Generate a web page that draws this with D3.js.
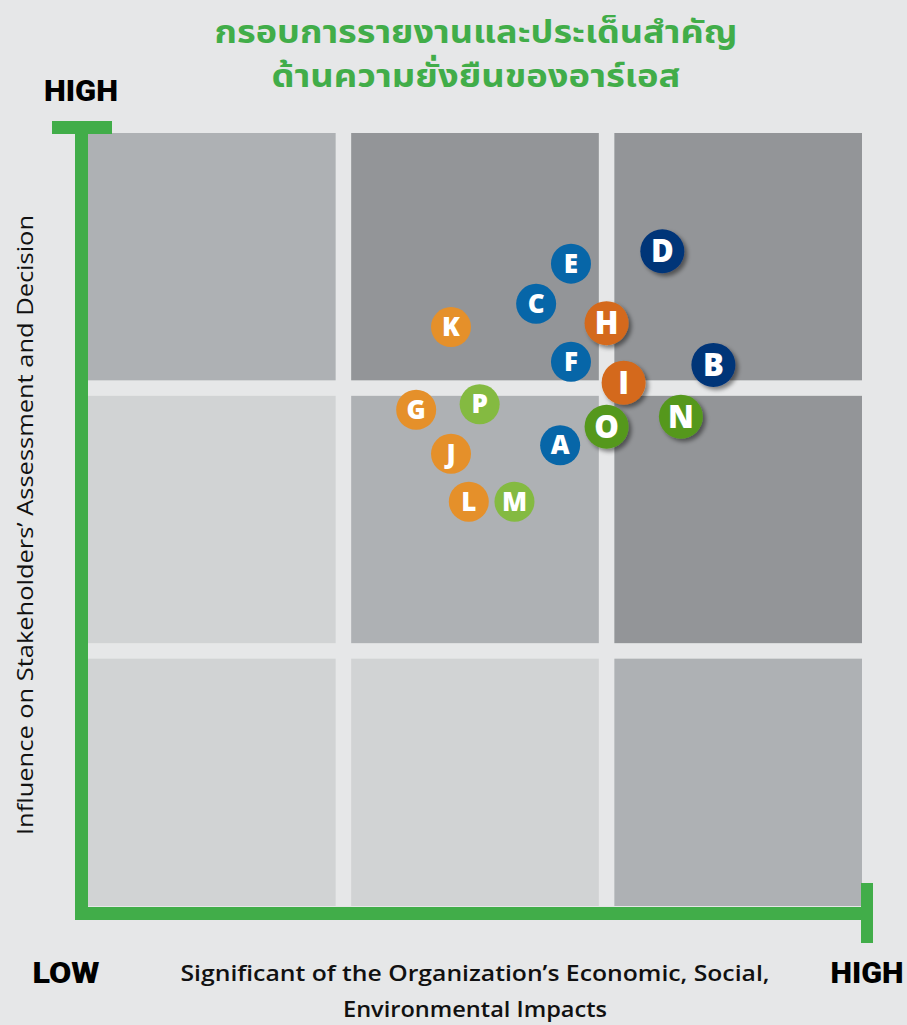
<!DOCTYPE html>
<html>
<head>
<meta charset="utf-8">
<script src="https://cdn.jsdelivr.net/npm/d3@7"></script>
<style>
  body { margin: 0; background: #e6e7e8; }
  svg { display: block; }
</style>
</head>
<body>
<svg id="chart" width="907" height="1025"></svg>
<script>
// issues plotted on the materiality matrix (0-100 on both axes)
const letters = ['A', 'B', 'C', 'D', 'E', 'F', 'G', 'H', 'I', 'J', 'K', 'L', 'M', 'N', 'O', 'P'];
const impactValues = [61.0, 80.8, 57.9, 74.2, 62.4, 62.4, 42.4, 67.0, 69.2, 46.9, 46.9, 49.2, 55.1, 76.6, 67.0, 50.6];
const influenceValues = [59.6, 70.0, 77.9, 84.7, 83.1, 70.4, 64.2, 75.4, 67.7, 58.5, 74.9, 52.3, 52.3, 63.3, 62.0, 64.9];
const groups = ['eco', 'eco1', 'eco', 'eco1', 'eco', 'eco', 'soc', 'soc1', 'soc1', 'soc', 'soc', 'soc', 'env', 'env1', 'env1', 'env'];

// 3x3 grid, rows from top (high influence) to bottom
const levels = ['Low', 'Medium', 'High'];
const cellShade = [
    [1, 2, 2],
    [0, 1, 2],
    [0, 0, 1]
];

const titleLines = ['กรอบการรายงานและประเด็นสำคัญ', 'ด้านความยั่งยืนของอาร์เอส'];
const xLabelLines = ['Significant of the Organization’s Economic, Social,', 'Environmental Impacts'];
const yLabel = 'Influence on Stakeholders’ Assessment and Decision';

const svg = d3.select('#chart');
const green = '#41ad49';

const shades = ['#d1d3d4', '#aeb1b4', '#939598'];
const colors = {
    eco: '#0766a8', eco1: '#003478',
    soc: '#e5902a', soc1: '#d4691a',
    env: '#84ba41', env1: '#55981f'
};

const plotLeft = 88, plotRight = 862, plotTop = 133, plotBottom = 906;

const x = d3.scaleLinear().domain([0, 100]).range([plotLeft, plotRight]);
const y = d3.scaleLinear().domain([0, 100]).range([plotBottom, plotTop]);
const colBand = d3.scaleBand().domain(levels).range([plotLeft, plotRight]).paddingInner(0.059);
const rowBand = d3.scaleBand().domain(levels.slice().reverse()).range([plotTop, plotBottom]).paddingInner(0.059);

const defs = svg.append('defs');
defs.append('filter').attr('id', 'shadow')
    .attr('x', '-30%').attr('y', '-30%').attr('width', '170%').attr('height', '170%')
    .append('feDropShadow')
    .attr('dx', 3).attr('dy', 3).attr('stdDeviation', 2.2)
    .attr('flood-color', '#000').attr('flood-opacity', 0.45);

// title
svg.append('g').selectAll('text')
    .data(titleLines)
    .enter().append('text')
    .attr('x', 476)
    .attr('y', (d, i) => 43 + i * 44)
    .attr('text-anchor', 'middle')
    .attr('textLength', (d, i) => i ? 409 : 523)
    .attr('lengthAdjust', 'spacingAndGlyphs')
    .attr('fill', green)
    .style('font-family', '"Noto Sans Thai", "Noto Sans", "DejaVu Sans", sans-serif')
    .style('font-size', '32px')
    .style('font-weight', 700)
    .text(d => d);

// grid cells
const cells = [];
cellShade.forEach((row, r) => row.forEach((s, c) => cells.push({row: levels[2 - r], col: levels[c], s: s})));
svg.append('g').selectAll('rect')
    .data(cells)
    .enter().append('rect')
    .attr('x', d => colBand(d.col))
    .attr('y', d => rowBand(d.row))
    .attr('width', colBand.bandwidth())
    .attr('height', rowBand.bandwidth())
    .attr('fill', d => shades[d.s]);

// green axes
const axes = svg.append('g').attr('fill', green);
axes.append('rect').attr('x', 75).attr('y', 121).attr('width', 13).attr('height', 799);
axes.append('rect').attr('x', 52).attr('y', 121).attr('width', 60).attr('height', 13);
axes.append('rect').attr('x', 75).attr('y', 907).attr('width', 798).attr('height', 13);
axes.append('rect').attr('x', 861).attr('y', 883).attr('width', 12).attr('height', 60);

// axis end labels
const endLabels = [
    {t: 'HIGH', x: 81, y: 101, w: 74},
    {t: 'LOW', x: 66, y: 983, w: 67},
    {t: 'HIGH', x: 867, y: 983, w: 73}
];
svg.append('g').selectAll('text')
    .data(endLabels)
    .enter().append('text')
    .attr('x', d => d.x)
    .attr('y', d => d.y)
    .attr('text-anchor', 'middle')
    .attr('textLength', d => d.w)
    .attr('lengthAdjust', 'spacingAndGlyphs')
    .style('font-family', 'Roboto, sans-serif')
    .style('font-size', '29px')
    .style('font-weight', 900)
    .attr('fill', '#000')
    .text(d => d.t);

// x axis title
svg.append('g').selectAll('text')
    .data(xLabelLines)
    .enter().append('text')
    .attr('x', 475)
    .attr('y', (d, i) => 981 + i * 36)
    .attr('text-anchor', 'middle')
    .attr('textLength', (d, i) => i ? 264 : 589)
    .attr('lengthAdjust', 'spacingAndGlyphs')
    .style('font-family', '"Open Sans", sans-serif')
    .style('font-size', '22px')
    .style('font-weight', 600)
    .attr('fill', '#111')
    .text(d => d);

// y axis title
svg.append('text')
    .attr('transform', 'translate(33,525) rotate(-90)')
    .attr('text-anchor', 'middle')
    .attr('textLength', 620)
    .attr('lengthAdjust', 'spacingAndGlyphs')
    .style('font-family', '"Open Sans", sans-serif')
    .style('font-size', '21px')
    .style('font-weight', 500)
    .attr('fill', '#111')
    .text(yLabel);

// issue bubbles
const points = letters.map((l, i) => ({
    letter: l, x: impactValues[i], y: influenceValues[i], group: groups[i],
    big: groups[i].endsWith('1')
}));

const node = svg.append('g').selectAll('g')
    .data(points)
    .enter().append('g')
    .attr('transform', d => `translate(${x(d.x)}, ${y(d.y)})`);

node.append('circle')
    .attr('r', d => d.big ? 22 : 20)
    .attr('fill', d => colors[d.group])
    .attr('filter', d => d.big ? 'url(#shadow)' : null);

node.append('text')
    .attr('text-anchor', 'middle')
    .attr('dy', d => d.big ? 11 : 9)
    .attr('fill', '#fff')
    .style('font-family', '"Open Sans", sans-serif')
    .style('font-weight', 800)
    .style('font-size', d => d.big ? '31px' : '26px')
    .text(d => d.letter);
</script>
</body>
</html>
